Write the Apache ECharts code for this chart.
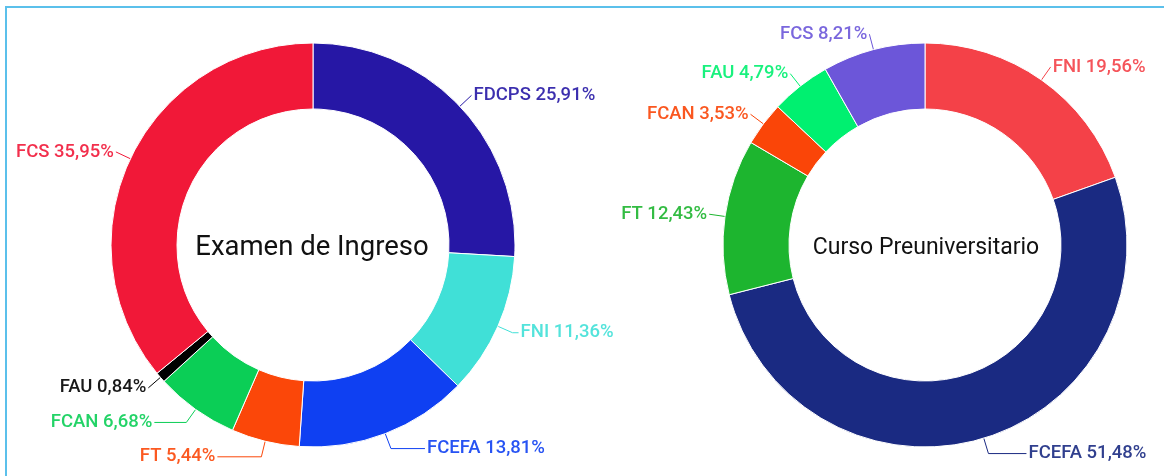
<!DOCTYPE html>
<html>
<head>
<meta charset="utf-8">
<script src="https://cdn.jsdelivr.net/npm/echarts@6/dist/echarts.min.js"></script>
<style>
  html, body { margin: 0; padding: 0; background: #fff; overflow: hidden; }
  #frame { position: absolute; left: 5px; top: 6px; width: 1300px; height: 600px;
           border-top: 2px solid #5bc0eb; border-left: 2px solid #5bc0eb; }
  #chart { position: absolute; left: 0; top: 0; width: 1164px; height: 476px; }
</style>
</head>
<body>
<div id="frame"></div>
<div id="chart"></div>
<script>
// Examen de Ingreso
var examNames = ['FDCPS', 'FNI', 'FCEFA', 'FT', 'FCAN', 'FAU', 'FCS'];
var examValues = [25.91, 11.36, 13.81, 5.44, 6.68, 0.84, 35.95];
var examColors = ['#2617a5', '#40e0d7', '#0f40f2', '#fb4709', '#0bce56', '#000000', '#f11838'];

// Curso Preuniversitario
var cursoNames = ['FNI', 'FCEFA', 'FT', 'FCAN', 'FAU', 'FCS'];
var cursoValues = [19.56, 51.48, 12.43, 3.53, 4.79, 8.21];
var cursoColors = ['#f44148', '#1a2a82', '#1db52f', '#fa4508', '#00f070', '#6c56d9'];

// longer horizontal leader for the crowded bottom labels
var examLead = { FNI: 6, FCEFA: 34, FT: 44, FCAN: 32 };
var cursoLead = { FCEFA: 38 };

function buildData(names, values, colors, lead) {
  var out = [];
  for (var i = 0; i < names.length; i++) {
    out.push({
      name: names[i],
      value: values[i],
      itemStyle: { color: colors[i] },
      label: { color: colors[i] },
      labelLine: { length2: lead[names[i]] || 0, lineStyle: { color: colors[i] } }
    });
  }
  return out;
}

function pieSeries(cx, data) {
  return {
    type: 'pie',
    center: [cx, 245],
    radius: [136, 202],
    startAngle: 90,
    clockwise: true,
    animation: false,
    avoidLabelOverlap: true,
    itemStyle: { borderColor: '#fff', borderWidth: 1 },
    label: {
      show: true,
      position: 'outside',
      fontFamily: 'Roboto',
      fontSize: 18.5,
      fontWeight: 500,
      opacity: 0.9,
      distanceToLabelLine: 2,
      padding: [0, 0, 11, 0],
      formatter: function (p) {
        return p.name + ' ' + p.value.toFixed(2).replace('.', ',') + '%';
      }
    },
    labelLine: { show: true, length: 16, length2: 0, lineStyle: { width: 1 } },
    emphasis: { disabled: true },
    data: data
  };
}

var chart = echarts.init(document.getElementById('chart'), null, { renderer: 'canvas' });
chart.setOption({
  animation: false,
  title: [
    {
      text: 'Examen de Ingreso', left: 312, top: 248, padding: 0,
      textAlign: 'center', textVerticalAlign: 'middle',
      textStyle: { fontFamily: 'Roboto', fontSize: 27.5, fontWeight: 'normal', color: '#111' }
    },
    {
      text: 'Curso Preuniversitario', left: 926, top: 248, padding: 0,
      textAlign: 'center', textVerticalAlign: 'middle',
      textStyle: { fontFamily: 'Roboto', fontSize: 23, fontWeight: 'normal', color: '#111' }
    }
  ],
  series: [
    pieSeries(313, buildData(examNames, examValues, examColors, examLead)),
    pieSeries(925, buildData(cursoNames, cursoValues, cursoColors, cursoLead))
  ]
});
</script>
</body>
</html>
